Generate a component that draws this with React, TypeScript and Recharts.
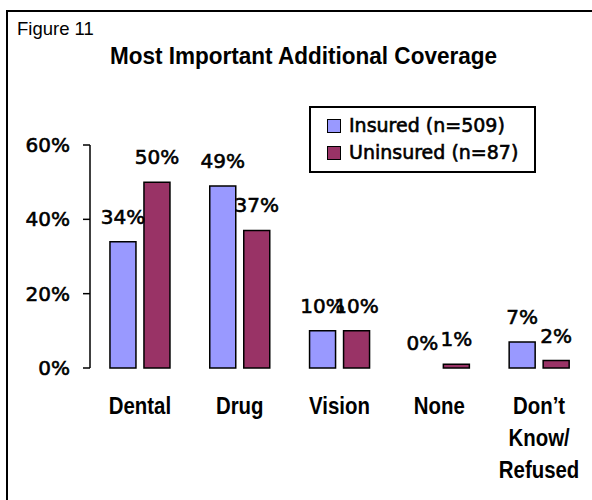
import React from "react";
import { BarChart, Bar, XAxis, YAxis, Legend, LabelList, Rectangle } from "recharts";

const categories = ["Dental", "Drug", "Vision", "None", "Don\u2019t\nKnow/\nRefused"];
const insured = [0.34, 0.49, 0.1, 0.0, 0.07];
const uninsured = [0.5, 0.37, 0.1, 0.01, 0.02];
const yTicks = [0, 0.2, 0.4, 0.6];
const boundaryTicks = [0, 1, 2, 3, 4, 5];
const seriesNames = ["Insured (n=509)", "Uninsured (n=87)"];

const data = categories.map((c, i) => ({
  cat: c,
  idx: i + 0.5,
  insured: insured[i],
  uninsured: uninsured[i],
}));

const NUM_FONT = "'DejaVu Sans', Verdana, sans-serif";
const NARROW_FONT = "'Liberation Sans', Arial, sans-serif";

const pct = (v: number) => `${Math.round(v * 100)}%`;

const CatTick = (props: any) => {
  const { x, y, payload } = props;
  const lines = String(payload.value).split("\n");
  return (
    <g transform={`translate(${x},${y}) scale(0.85,1)`}>
      <text
        textAnchor="middle"
        fontFamily={NARROW_FONT}
        fontWeight="bold"
        fontSize={24}
        fill="#000"
      >
        {lines.map((l, i) => (
          <tspan key={i} x={0} y={38 + i * 32}>
            {l}
          </tspan>
        ))}
      </text>
    </g>
  );
};

const BarShape = (props: any) => {
  const { height } = props;
  if (!height || Math.abs(height) < 0.5) return <g />;
  return <Rectangle {...props} />;
};

const ValueLabel = (props: any) => {
  const { x, y, width, value } = props;
  return (
    <text
      x={x + width / 2}
      y={y - 18}
      textAnchor="middle"
      fontFamily={NUM_FONT}
      fontSize={20}
      fill="#000"
      stroke="#000"
      strokeWidth={0.6}
    >
      {pct(value)}
    </text>
  );
};

const LegendBox = (props: any) => {
  const { payload } = props;
  return (
    <div
      style={{
        border: "2px solid #000",
        background: "#fff",
        boxSizing: "border-box",
        width: 227,
        height: 67,
        padding: "4px 0 0 16px",
        fontFamily: NUM_FONT,
        fontSize: 19,
        color: "#000",
        WebkitTextStroke: "0.6px #000",
      }}
    >
      {(payload || []).map((p: any, i: number) => (
        <div
          key={i}
          style={{ display: "flex", alignItems: "center", height: 27, lineHeight: "27px" }}
        >
          <span
            style={{
              display: "inline-block",
              width: 12,
              height: 12,
              background: p.color,
              border: "1.5px solid #000",
              marginRight: 8,
            }}
          />
          <span>{p.value}</span>
        </div>
      ))}
    </div>
  );
};

export default function App() {
  return (
    <div
      style={{
        position: "absolute",
        left: 0,
        top: 0,
        width: 592,
        height: 500,
        overflow: "hidden",
        background: "#fff",
      }}
    >
      <div
        style={{
          position: "absolute",
          left: 6,
          top: 10,
          width: 700,
          height: 600,
          border: "2px solid #000",
          boxSizing: "border-box",
        }}
      />
      <svg
        width={592}
        height={500}
        style={{ position: "absolute", left: 0, top: 0, pointerEvents: "none" }}
      >
        <text x={17} y={35} fontFamily={NARROW_FONT} fontSize={18.5} fill="#000">
          Figure 11
        </text>
        <text
          x={110}
          y={64}
          fontFamily={NARROW_FONT}
          fontWeight="bold"
          fontSize={24}
          fill="#000"
          textLength={387}
          lengthAdjust="spacingAndGlyphs"
        >
          Most Important Additional Coverage
        </text>
      </svg>
      <div style={{ position: "absolute", left: 0, top: 0 }}>
        <BarChart
          width={592}
          height={500}
          data={data}
          margin={{ top: 145, right: 3, bottom: 32, left: 0 }}
          barCategoryGap="20%"
          barGap={8}
        >
          <XAxis
            xAxisId="grid"
            type="number"
            dataKey="idx"
            domain={[0, 5]}
            ticks={boundaryTicks}
            tickFormatter={() => ""}
            tickSize={9}
            height={0}
            stroke="#000"
            strokeWidth={1.5}
            allowDataOverflow
          />
          <XAxis
            xAxisId="cat"
            dataKey="cat"
            axisLine={false}
            tickLine={false}
            height={100}
            interval={0}
            tick={<CatTick />}
          />
          <YAxis
            domain={[0, 0.6]}
            ticks={yTicks}
            tickFormatter={pct}
            width={90}
            tickSize={7}
            tickMargin={13}
            stroke="#000"
            strokeWidth={1.5}
            tick={{ fill: "#000", fontFamily: NUM_FONT, fontSize: 20, stroke: "#000", strokeWidth: 0.6 }}
          />
          <Legend
            layout="vertical"
            align="center"
            verticalAlign="middle"
            wrapperStyle={{ left: 309, top: 106, width: 227, height: 67 }}
            content={<LegendBox />}
          />
          <Bar
            xAxisId="cat"
            dataKey="insured"
            name={seriesNames[0]}
            fill="#9999FF"
            stroke="#000"
            strokeWidth={1.5}
            shape={BarShape}
            isAnimationActive={false}
          >
            <LabelList dataKey="insured" content={<ValueLabel />} />
          </Bar>
          <Bar
            xAxisId="cat"
            dataKey="uninsured"
            name={seriesNames[1]}
            fill="#993366"
            stroke="#000"
            strokeWidth={1.5}
            shape={BarShape}
            isAnimationActive={false}
          >
            <LabelList dataKey="uninsured" content={<ValueLabel />} />
          </Bar>
        </BarChart>
      </div>
    </div>
  );
}
